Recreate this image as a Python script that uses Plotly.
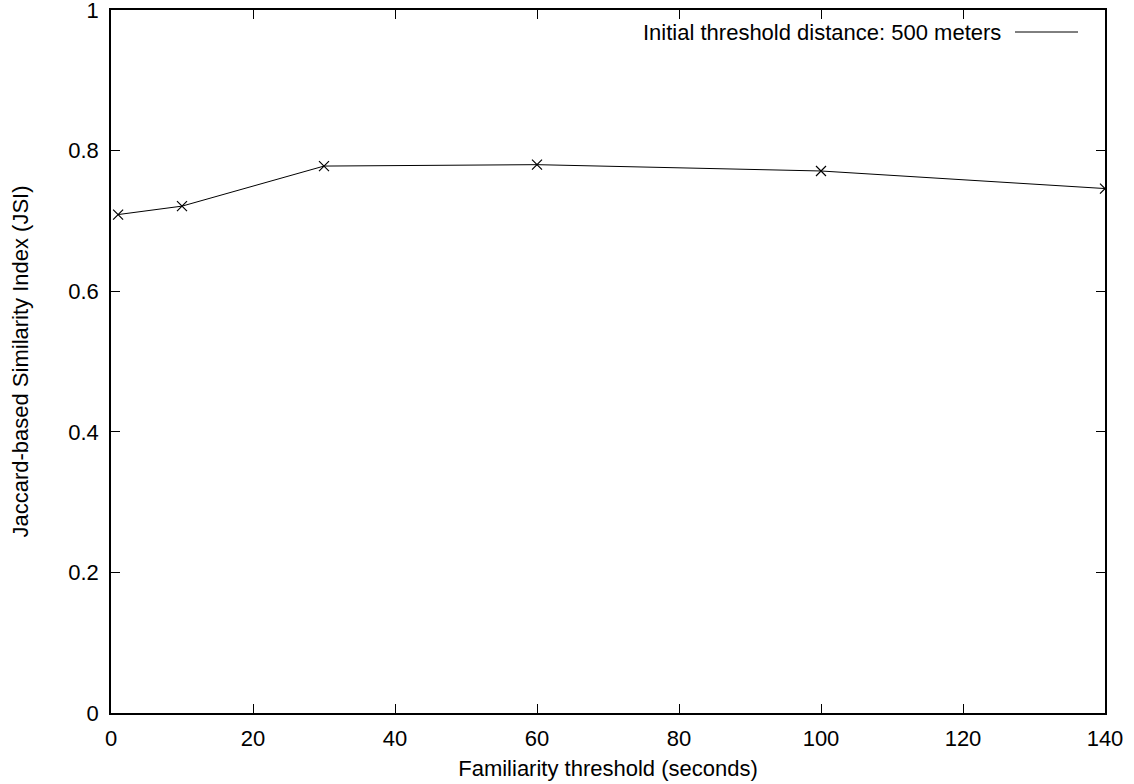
import plotly.graph_objects as go

# Data
familiarity_threshold = [1, 10, 30, 60, 100, 140]
jsi_500m = [0.709, 0.721, 0.778, 0.780, 0.771, 0.746]
series_label = "Initial threshold distance: 500 meters"

x_ticks = [0, 20, 40, 60, 80, 100, 120, 140]
y_ticks = [0, 0.2, 0.4, 0.6, 0.8, 1]
y_tick_text = ["0", "0.2", "0.4", "0.6", "0.8", "1"]

FONT = "Liberation Sans, Arial, Helvetica, sans-serif"
FS = 22

fig = go.Figure()
fig.add_trace(go.Scatter(
    x=familiarity_threshold, y=jsi_500m,
    mode="lines+markers",
    line=dict(color="black", width=1),
    marker=dict(symbol="x-thin-open", size=10, line=dict(color="black", width=1.2)),
    name=series_label, showlegend=False,
))

L, R, T, B = 111, 29, 10, 71
W, H = 1134, 784
pw, ph = W - L - R, H - T - B

def px_x(p):
    return (p - L) / pw

def px_y(p):
    return (H - B - p) / ph

# Legend key (text with line sample on the right, gnuplot style)
fig.add_annotation(
    x=px_x(1003), y=px_y(32), xref="paper", yref="paper",
    text=series_label, showarrow=False, xanchor="right", yanchor="middle",
    font=dict(family=FONT, size=FS, color="black"),
)
fig.add_shape(type="line", xref="paper", yref="paper",
              x0=px_x(1015), x1=px_x(1078), y0=px_y(32), y1=px_y(32),
              line=dict(color="black", width=1))

axis_common = dict(
    showline=True, linecolor="black", linewidth=1.5, mirror="allticks",
    ticks="inside", ticklen=9, tickwidth=1, tickcolor="black",
    showgrid=False, zeroline=False, automargin=False,
    ticklabeloverflow="allow",
    tickfont=dict(family=FONT, size=FS, color="black"),
)

fig.update_xaxes(
    range=[0, 140], tickvals=x_ticks,
    title=dict(text="Familiarity threshold (seconds)",
               font=dict(family=FONT, size=FS, color="black"), standoff=10),
    ticklabelstandoff=5,
    **axis_common,
)
fig.update_yaxes(
    range=[0, 1], tickvals=y_ticks, ticktext=y_tick_text,
    title=dict(text="Jaccard-based Similarity Index (JSI)",
               font=dict(family=FONT, size=FS, color="black"), standoff=34),
    ticklabelstandoff=6,
    **axis_common,
)

fig.update_layout(
    width=W, height=H,
    margin=dict(l=L, r=R, t=T, b=B, pad=0),
    paper_bgcolor="white", plot_bgcolor="white",
    font=dict(family=FONT, size=FS, color="black"),
)

fig.write_html("out.html")
